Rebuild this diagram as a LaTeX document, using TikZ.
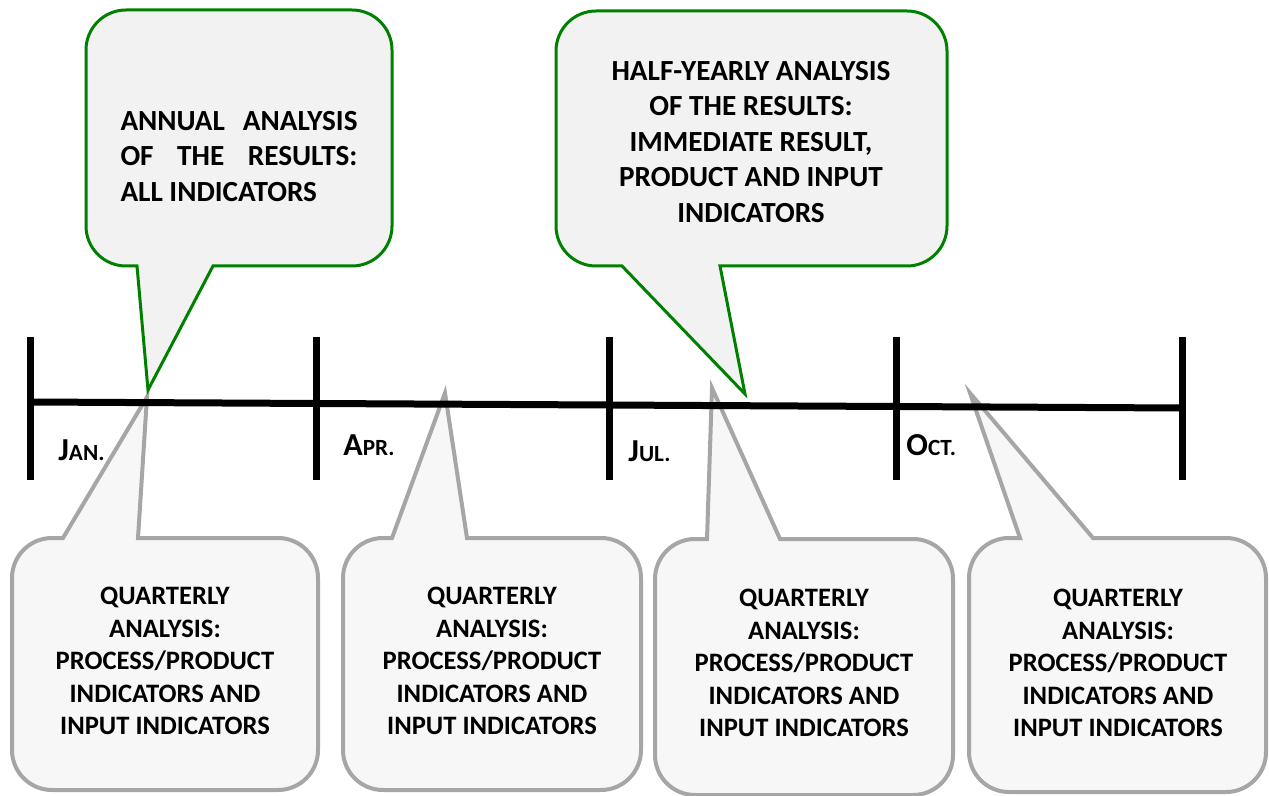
\documentclass[tikz,border=0pt]{standalone}
\usepackage{fontspec}
\setmainfont{Carlito}
\definecolor{callgreen}{HTML}{008000}
\definecolor{callgray}{HTML}{A6A6A6}
\definecolor{topfill}{HTML}{F2F2F2}
\definecolor{botfill}{HTML}{F7F7F7}
% tail on the bottom edge: L T R B a b tipx tipy
\newcommand\calloutdown[8]{%
  \filldraw[topbubble] ({#1+40},#2) -- ({#3-40},#2) arc(270:360:40) -- (#3,{#4-40}) arc(0:90:40)
    -- (#6,#4) -- (#7,#8) -- (#5,#4) -- ({#1+40},#4) arc(90:180:40) -- (#1,{#2+40}) arc(180:270:40) -- cycle;}
% tail on the top edge: L T R B a b tipx tipy
\newcommand\calloutup[8]{%
  \filldraw[botbubble] (#5,#2) -- (#7,#8) -- (#6,#2) -- ({#3-40},#2) arc(270:360:40) -- (#3,{#4-40}) arc(0:90:40)
    -- ({#1+40},#4) arc(90:180:40) -- (#1,{#2+40}) arc(180:270:40) -- cycle;}
\begin{document}
\begin{tikzpicture}[x=0.5pt,y=-0.5pt,
  topbubble/.style={draw=callgreen,fill=topfill,line width=1.5pt,line join=miter},
  botbubble/.style={draw=callgray,fill=botfill,line width=2pt,line join=miter},
  timeline/.style={line width=3.5pt,black},
  toptext/.style={font=\bfseries\fontsize{14.6}{17.75}\selectfont,inner sep=0pt},
  bottext/.style={font=\bfseries\fontsize{13.3}{16.25}\selectfont,inner sep=0pt,align=center},
  month/.style={font=\bfseries,inner sep=0pt,anchor=base west}]
\useasboundingbox (0,0) rectangle (1269,796);
% bottom callouts
\calloutup{12}{538}{318}{790}{63}{138}{147}{397}
\calloutup{343}{538}{641}{790}{392}{467}{445}{393}
\calloutup{655}{539}{953}{795}{707}{780}{712}{388}
\calloutup{969}{538}{1266}{792}{1020}{1093}{970}{393}
% timeline
\coordinate (t0) at (30,402);
\coordinate (t4) at (1182,408);
\draw[timeline] (t0) -- (t4);
\foreach \x/\n in {30/a,316/b,609/c,896/d,1182/e}{
  \coordinate (tick\n top) at (\x,337);
  \coordinate (tick\n bot) at (\x,480);
  \draw[timeline] (tick\n top) -- (tick\n bot);
}
% month labels
\newcommand\bigc[1]{{\fontsize{16}{16}\selectfont #1}}
\newcommand\smc[1]{{\fontsize{11.6}{11.6}\selectfont #1}}
\node[month] (jan) at (58,461) {\bigc{J}\smc{AN.}};
\node[month] (apr) at (343,456) {\bigc{A}\smc{PR.}};
\node[month] (jul) at (628,462) {\bigc{J}\smc{UL.}};
\node[month] (oct) at (906,456) {\bigc{O}\smc{CT.}};
% top callouts
\calloutdown{86}{10}{392}{266}{137}{213}{148}{390}
\calloutdown{556}{11}{947}{266}{622}{720}{745}{394}
\node[toptext,text width=118.5pt,align=justify] (annual) at (239,156.5)
  {ANNUAL ANALYSIS\linebreak OF THE RESULTS:\linebreak ALL INDICATORS};
\node[toptext,align=center] (half) at (751,142)
  {HALF-YEARLY ANALYSIS\\OF THE RESULTS:\\IMMEDIATE RESULT,\\PRODUCT AND INPUT\\INDICATORS};
% bottom texts
\node[bottext] (q1) at (165,661) {QUARTERLY\\ANALYSIS:\\PROCESS/PRODUCT\\INDICATORS AND\\INPUT INDICATORS};
\node[bottext] (q2) at (492,661) {QUARTERLY\\ANALYSIS:\\PROCESS/PRODUCT\\INDICATORS AND\\INPUT INDICATORS};
\node[bottext] (q3) at (804,663) {QUARTERLY\\ANALYSIS:\\PROCESS/PRODUCT\\INDICATORS AND\\INPUT INDICATORS};
\node[bottext] (q4) at (1118,663) {QUARTERLY\\ANALYSIS:\\PROCESS/PRODUCT\\INDICATORS AND\\INPUT INDICATORS};
\end{tikzpicture}
\end{document}
